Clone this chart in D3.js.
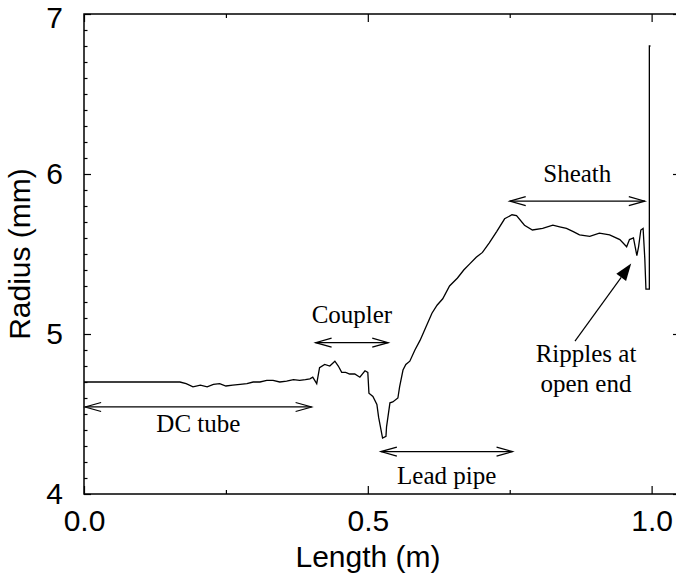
<!DOCTYPE html>
<html>
<head>
<meta charset="utf-8">
<script src="https://cdn.jsdelivr.net/npm/d3@7"></script>
<style>
  html, body { margin: 0; padding: 0; background: #fff; }
  svg { display: block; }
</style>
</head>
<body>
<svg id="chart" width="676" height="579"></svg>
<script>
// ---- data ----
const lengthM = [0, 0.169, 0.180, 0.192, 0.205, 0.217, 0.228, 0.239, 0.250, 0.262, 0.275, 0.287, 0.298, 0.310, 0.322, 0.333, 0.345, 0.357, 0.369, 0.380, 0.390, 0.398, 0.403, 0.410, 0.415, 0.424, 0.433, 0.442, 0.448, 0.454, 0.461, 0.468, 0.477, 0.486, 0.495, 0.500, 0.502, 0.509, 0.516, 0.519, 0.526, 0.532, 0.533, 0.539, 0.544, 0.553, 0.556, 0.562, 0.567, 0.574, 0.583, 0.592, 0.602, 0.613, 0.622, 0.632, 0.644, 0.658, 0.669, 0.680, 0.691, 0.702, 0.714, 0.727, 0.741, 0.754, 0.762, 0.776, 0.790, 0.808, 0.826, 0.838, 0.850, 0.862, 0.873, 0.891, 0.908, 0.926, 0.944, 0.956, 0.961, 0.968, 0.974, 0.977, 0.981, 0.985, 0.988, 0.990, 0.996, 0.996, 0.998];
const radiusMm = [4.70, 4.70, 4.69, 4.67, 4.68, 4.67, 4.685, 4.69, 4.675, 4.68, 4.685, 4.69, 4.70, 4.70, 4.71, 4.71, 4.70, 4.705, 4.715, 4.71, 4.715, 4.72, 4.73, 4.69, 4.79, 4.81, 4.80, 4.83, 4.80, 4.76, 4.76, 4.75, 4.75, 4.73, 4.77, 4.76, 4.63, 4.61, 4.56, 4.48, 4.35, 4.36, 4.42, 4.57, 4.575, 4.60, 4.67, 4.775, 4.81, 4.83, 4.90, 4.96, 5.04, 5.13, 5.18, 5.22, 5.30, 5.35, 5.40, 5.44, 5.48, 5.51, 5.57, 5.64, 5.72, 5.745, 5.74, 5.68, 5.65, 5.66, 5.68, 5.67, 5.66, 5.64, 5.62, 5.61, 5.63, 5.62, 5.59, 5.545, 5.59, 5.60, 5.49, 5.545, 5.65, 5.66, 5.47, 5.28, 5.28, 6.80, 6.80];

const xMajorTicks = [0, 0.5, 1.0];
const xMinorTicks = [0.25, 0.75];
const xTickLabels = ["0.0", "0.5", "1.0"];
const yMajorTicks = [4, 5, 6, 7];
const yMinorTicks = d3.range(40, 71).filter(v => v % 10 !== 0).map(v => v / 10);
const yTickLabels = ["4", "5", "6", "7"];

// double-headed range arrows: [label, from (m), to (m), arrow radius, label radius]
const spanLabels = ["DC tube", "Coupler", "Lead pipe", "Sheath"];
const spanFrom   = [0.002, 0.408, 0.523, 0.750];
const spanTo     = [0.401, 0.536, 0.755, 0.988];
const spanArrowR = [4.544, 4.946, 4.265, 5.83];
const spanTextR  = [4.39, 5.07, 4.06, 5.95];

const noteLines = ["Ripples at", "open end"];
const noteTail = [0.865, 4.955];
const noteHead = [0.964, 5.44];

// ---- layout ----
const svg = d3.select("#chart");
const x = d3.scaleLinear().domain([0, 1.05]).range([84, 680]);
const y = d3.scaleLinear().domain([4, 7]).range([494, 14]);

const sans = "'Liberation Sans', Arial, Helvetica, sans-serif";
const serif = "'Liberation Serif', 'Times New Roman', serif";

// frame
svg.append("rect")
  .attr("x", x(0)).attr("y", y(7))
  .attr("width", x(1.05) - x(0)).attr("height", y(4) - y(7))
  .attr("fill", "none").attr("stroke", "#000").attr("stroke-width", 1.5);

function styleAxis(g) {
  g.select(".domain").remove();
  g.selectAll(".tick line").attr("stroke", "#000").attr("stroke-width", 1.2);
  g.selectAll("text").attr("font-family", sans).attr("font-size", 30).attr("fill", "#000");
}

// bottom axis
svg.append("g").attr("transform", `translate(0,${y(4)})`)
  .call(d3.axisBottom(x).tickValues(xMajorTicks).tickSize(-8).tickPadding(16)
        .tickFormat((d, i) => xTickLabels[i]))
  .call(styleAxis);
svg.append("g").attr("transform", `translate(0,${y(4)})`)
  .call(d3.axisBottom(x).tickValues(xMinorTicks).tickSize(-4).tickFormat(""))
  .call(styleAxis);
// top axis
svg.append("g").attr("transform", `translate(0,${y(7)})`)
  .call(d3.axisTop(x).tickValues(xMajorTicks).tickSize(-8).tickFormat(""))
  .call(styleAxis);
svg.append("g").attr("transform", `translate(0,${y(7)})`)
  .call(d3.axisTop(x).tickValues(xMinorTicks).tickSize(-4).tickFormat(""))
  .call(styleAxis);
// left axis
const leftAxis = svg.append("g").attr("transform", `translate(${x(0)},0)`)
  .call(d3.axisLeft(y).tickValues(yMajorTicks).tickSize(-7).tickPadding(21)
        .tickFormat((d, i) => yTickLabels[i]))
  .call(styleAxis);
// keep the top label fully inside the picture
leftAxis.selectAll(".tick text").filter(d => d === 7).attr("dy", "0.45em");
svg.append("g").attr("transform", `translate(${x(0)},0)`)
  .call(d3.axisLeft(y).tickValues(yMinorTicks).tickSize(-3.5).tickFormat(""))
  .call(styleAxis);
// right axis
svg.append("g").attr("transform", `translate(${x(1.05)},0)`)
  .call(d3.axisRight(y).tickValues(yMajorTicks).tickSize(-7).tickFormat(""))
  .call(styleAxis);
svg.append("g").attr("transform", `translate(${x(1.05)},0)`)
  .call(d3.axisRight(y).tickValues(yMinorTicks).tickSize(-3.5).tickFormat(""))
  .call(styleAxis);

// axis titles
svg.append("text")
  .attr("x", 368).attr("y", 567)
  .attr("text-anchor", "middle")
  .attr("font-family", sans).attr("font-size", 30).attr("fill", "#000")
  .text("Length (m)");
svg.append("text")
  .attr("transform", `translate(30,${(y(4) + y(7)) / 2}) rotate(-90)`)
  .attr("text-anchor", "middle")
  .attr("font-family", sans).attr("font-size", 30).attr("fill", "#000")
  .text("Radius (mm)");

// curve
const pts = lengthM.map((d, i) => [d, radiusMm[i]]);
svg.append("path")
  .datum(pts)
  .attr("d", d3.line().x(d => x(d[0])).y(d => y(d[1])).curve(d3.curveLinear))
  .attr("fill", "none").attr("stroke", "#000").attr("stroke-width", 1.3)
  .attr("stroke-linejoin", "miter");

// span arrows
spanLabels.forEach((lab, i) => {
  const x1 = x(spanFrom[i]), x2 = x(spanTo[i]), yy = y(spanArrowR[i]);
  const g = svg.append("g").attr("stroke", "#000").attr("stroke-width", 1.2).attr("fill", "none");
  g.append("line").attr("x1", x1).attr("x2", x2).attr("y1", yy).attr("y2", yy);
  g.append("path").attr("d", `M${x1 + 16},${yy - 4.5}L${x1},${yy}L${x1 + 16},${yy + 4.5}`);
  g.append("path").attr("d", `M${x2 - 16},${yy - 4.5}L${x2},${yy}L${x2 - 16},${yy + 4.5}`);
  svg.append("text")
    .attr("x", (x1 + x2) / 2).attr("y", y(spanTextR[i]))
    .attr("text-anchor", "middle")
    .attr("font-family", serif).attr("font-size", 25).attr("fill", "#000")
    .text(lab);
});

// ripples note arrow
{
  const tx = x(noteTail[0]), ty = y(noteTail[1]);
  const hx = x(noteHead[0]), hy = y(noteHead[1]);
  const ang = Math.atan2(hy - ty, hx - tx);
  const L = 17, W = 6;
  const bx = hx - L * Math.cos(ang), by = hy - L * Math.sin(ang);
  svg.append("line").attr("x1", tx).attr("y1", ty).attr("x2", bx).attr("y2", by)
    .attr("stroke", "#000").attr("stroke-width", 1.2);
  svg.append("path")
    .attr("d", `M${hx},${hy}L${bx + W * Math.sin(ang)},${by - W * Math.cos(ang)}L${bx - W * Math.sin(ang)},${by + W * Math.cos(ang)}Z`)
    .attr("fill", "#000");
  const t = svg.append("text")
    .attr("text-anchor", "middle")
    .attr("font-family", serif).attr("font-size", 25).attr("fill", "#000");
  noteLines.forEach((s, i) => {
    t.append("tspan").attr("x", 586).attr("y", 362 + i * 30).text(s);
  });
}
</script>
</body>
</html>
